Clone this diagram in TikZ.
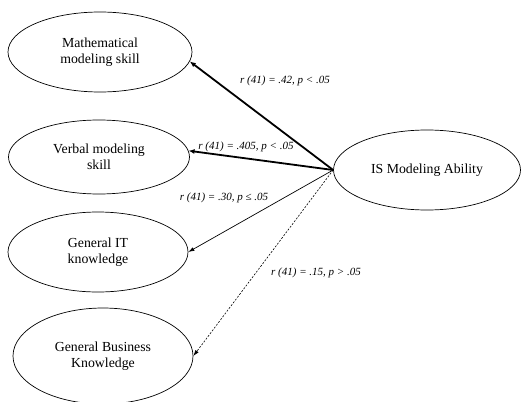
\documentclass[tikz,border=0pt]{standalone}
\usepackage{fontspec}
\setmainfont{Liberation Serif}
\usetikzlibrary{shapes.geometric,arrows.meta}
\begin{document}
\begin{tikzpicture}[x=1pt,y=-1pt,
  oval/.style={draw,ellipse,line width=0.7pt,inner sep=0pt,align=center,font=\fontsize{13.8}{16}\selectfont},
  thickarrow/.style={line width=1.8pt,-{Latex[length=6pt,width=5pt]}},
  thinarrow/.style={line width=0.7pt,-{Latex[length=6pt,width=4pt]}},
  dasharrow/.style={line width=0.6pt,dash pattern=on 2pt off 1.5pt,-{Latex[length=6pt,width=4pt]}},
  rlabel/.style={font=\fontsize{11}{13}\selectfont\itshape,inner sep=1pt}]
\useasboundingbox (0,0) rectangle (521,401);
\node[oval,minimum width=184pt,minimum height=80pt] (math) at (100,52) {Mathematical\\modeling skill};
\node[oval,minimum width=181pt,minimum height=74pt] (verbal) at (99,157) {Verbal modeling\\skill};
\node[oval,minimum width=180pt,minimum height=80pt] (it) at (98,252) {General IT\\knowledge};
\node[oval,minimum width=180pt,minimum height=96pt] (bus) at (103,356) {General Business\\Knowledge};
\node[oval,minimum width=187pt,minimum height=80pt] (is) at (427,170) {IS Modeling Ability};
\coordinate (hub) at (is.west);
\draw[thickarrow] (hub) -- (math.-6);
\draw[thickarrow] (hub) -- (verbal.4);
\draw[thinarrow] (hub) -- (it.east);
\draw[dasharrow] (hub) -- (bus.east);
\node[rlabel] (l1) at (285,81) {r (41) = .42, p < .05};
\node[rlabel] (l2) at (246,147) {r (41) = .405, p < .05};
\node[rlabel] (l3) at (224,198) {r (41) = .30, p ≤ .05};
\node[rlabel] (l4) at (316,273) {r (41) = .15, p > .05};
\end{tikzpicture}
\end{document}
